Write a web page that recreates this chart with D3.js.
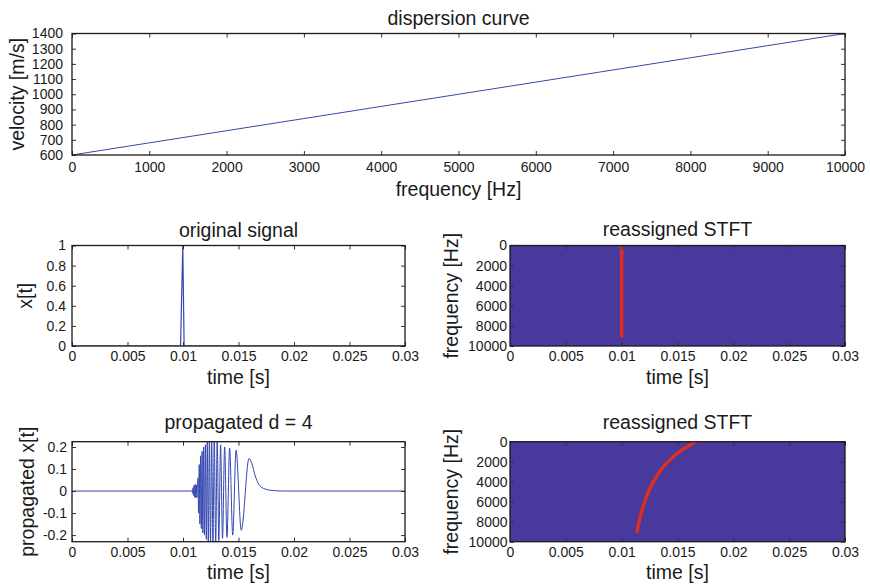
<!DOCTYPE html>
<html><head><meta charset="utf-8">
<script src="https://cdn.jsdelivr.net/npm/d3@7/dist/d3.min.js"></script>
<style>
body{margin:0;background:#fff;}
svg text{font-family:"Liberation Sans",Arial,Helvetica,sans-serif;fill:#1a1a1a;}
</style></head><body>
<svg id="c" width="870" height="586"></svg>
<script>
// ---------- data ----------
const dispFreq = [0, 1000, 2000, 3000, 4000, 5000, 6000, 7000, 8000, 9000, 10000];
const dispVel  = [600, 680, 760, 840, 920, 1000, 1080, 1160, 1240, 1320, 1400];

const origT = [0, 0.00978, 0.00998, 0.0101, 0.03];
const origX = [0, 0, 1, 0, 0];

const propT = [0, 0.0107, 0.0108, 0.01085, 0.0109, 0.01095, 0.0110, 0.01105, 0.0111, 0.01115, 0.0112, 0.01125, 0.0113,
  0.01135, 0.011406, 0.011463, 0.011523, 0.011585, 0.01165, 0.011717, 0.011788, 0.011861, 0.011937, 0.012017,
  0.0121, 0.012187, 0.012279, 0.012375, 0.012477, 0.012583, 0.012697, 0.012817, 0.012945, 0.013081, 0.013228,
  0.013387, 0.01356, 0.01375, 0.013962, 0.014201, 0.01448, 0.01478, 0.01525, 0.01595,
  0.0162, 0.0165, 0.0168, 0.0171, 0.0174, 0.0178, 0.0185, 0.019, 0.03];
const propX = [0, 0, 0.004, -0.01, 0.015, -0.02, 0.025, -0.028, 0.03, -0.03, 0.028, -0.03, 0.025,
  0.06, -0.1, 0.12, -0.15, 0.16, -0.17, 0.18, -0.19, 0.2, -0.2, 0.21,
  -0.22, 0.225, -0.235, 0.235, -0.24, 0.24, -0.24, 0.24, -0.24, 0.23, -0.225,
  0.21, -0.215, 0.2, -0.21, 0.195, -0.2, 0.185, -0.178, 0.148,
  0.125, 0.07, 0.032, 0.016, 0.009, 0.004, 0.001, 0, 0];

const stft1T = [0.01, 0.01];
const stft1F = [0, 9000];
const stft2T = [0.01662, 0.01586, 0.01519, 0.01463, 0.01416, 0.01375, 0.0134, 0.01284, 0.0124, 0.01206, 0.01178, 0.01156, 0.01138];
const stft2F = [0, 500, 1000, 1500, 2000, 2500, 3000, 4000, 5000, 6000, 7000, 8000, 9000];

const freqTicks = [0, 1000, 2000, 3000, 4000, 5000, 6000, 7000, 8000, 9000, 10000];
const velTicks = [600, 700, 800, 900, 1000, 1100, 1200, 1300, 1400];
const timeTicks = [0, 0.005, 0.01, 0.015, 0.02, 0.025, 0.03];
const sigTicks = [0, 0.2, 0.4, 0.6, 0.8, 1];
const propTicks = [-0.2, -0.1, 0, 0.1, 0.2];
const stftTicks = [0, 2000, 4000, 6000, 8000, 10000];

// ---------- drawing ----------
const svg = d3.select("#c");
const fmt = v => String(+(+v).toFixed(4));
const blue = "#3447b0";
let clipId = 0;

function panel(o) {
  const x = d3.scaleLinear().domain(o.xd).range([o.x0, o.x1]);
  const y = d3.scaleLinear().domain(o.yd).range([o.y1, o.y0]);
  const g = svg.append("g");
  const id = "clip" + (clipId++);
  svg.append("clipPath").attr("id", id).append("rect")
    .attr("x", o.x0).attr("y", o.y0).attr("width", o.x1 - o.x0).attr("height", o.y1 - o.y0);
  const plot = g.append("g").attr("clip-path", `url(#${id})`);
  if (o.bg) plot.append("rect").attr("x", o.x0).attr("y", o.y0)
      .attr("width", o.x1 - o.x0).attr("height", o.y1 - o.y0).attr("fill", o.bg);
  o.draw(plot, x, y);

  const tk = 4;
  const ax = (a, tr) => {
    const s = g.append("g").attr("transform", tr).call(a);
    s.select(".domain").remove();
    s.selectAll(".tick line").attr("stroke", "#333").attr("stroke-width", 1);
    s.selectAll("text").attr("font-size", 14).attr("fill", "#1a1a1a")
      .attr("font-family", '"Liberation Sans",Arial,sans-serif');
    return s;
  };
  ax(d3.axisBottom(x).tickValues(o.xt).tickSizeInner(-tk).tickSizeOuter(0).tickPadding(o.xpad).tickFormat(fmt), `translate(0,${o.y1})`);
  ax(d3.axisTop(x).tickValues(o.xt).tickSizeInner(-tk).tickSizeOuter(0).tickFormat(""), `translate(0,${o.y0})`);
  ax(d3.axisLeft(y).tickValues(o.yt).tickSizeInner(-tk).tickSizeOuter(0).tickPadding(o.ypad).tickFormat(fmt), `translate(${o.x0},0)`);
  ax(d3.axisRight(y).tickValues(o.yt).tickSizeInner(-tk).tickSizeOuter(0).tickFormat(""), `translate(${o.x1},0)`);

  g.append("rect").attr("x", o.x0).attr("y", o.y0).attr("width", o.x1 - o.x0).attr("height", o.y1 - o.y0)
    .attr("fill", "none").attr("stroke", "#1a1a1a").attr("stroke-width", 1.3);

  const cx = (o.x0 + o.x1) / 2;
  g.append("text").attr("x", cx).attr("y", o.ty).attr("text-anchor", "middle")
    .attr("font-size", 19.5).text(o.title);
  g.append("text").attr("x", cx).attr("y", o.y1 + o.xly).attr("text-anchor", "middle")
    .attr("font-size", 19.5).text(o.xl);
  g.append("text").attr("transform", `translate(${o.ylx},${(o.y0 + o.y1) / 2}) rotate(-90)`)
    .attr("text-anchor", "middle").attr("font-size", 19.5).text(o.yl);
}

function lineOf(xs, ys, x, y, curve) {
  const pts = xs.map((t, i) => [t, ys[i]]);
  return d3.line().x(d => x(d[0])).y(d => y(d[1])).curve(curve || d3.curveLinear)(pts);
}

panel({
  x0: 72, x1: 845, y0: 33.5, y1: 155, xd: [0, 10000], yd: [600, 1400],
  xt: freqTicks, yt: velTicks, title: "dispersion curve", xl: "frequency [Hz]", yl: "velocity [m/s]",
  ylx: 24, ty: 25, xly: 41, xpad: 7, ypad: 9,
  draw: (p, x, y) => p.append("path").attr("d", lineOf(dispFreq, dispVel, x, y))
    .attr("fill", "none").attr("stroke", blue).attr("stroke-width", 1)
});

panel({
  x0: 72, x1: 405, y0: 245.5, y1: 346, xd: [0, 0.03], yd: [0, 1],
  xt: timeTicks, yt: sigTicks, title: "original signal", xl: "time [s]", yl: "x[t]",
  ylx: 32, ty: 237, xly: 38, xpad: 5, ypad: 6,
  draw: (p, x, y) => p.append("path").attr("d", lineOf(origT, origX, x, y))
    .attr("fill", "none").attr("stroke", blue).attr("stroke-width", 1.2)
});

panel({
  x0: 510, x1: 845, y0: 245.5, y1: 346, xd: [0, 0.03], yd: [10000, 0],
  xt: timeTicks, yt: stftTicks, title: "reassigned STFT", xl: "time [s]", yl: "frequency [Hz]",
  ylx: 458, ty: 236, xly: 38, xpad: 5, ypad: 3, bg: "#48399d",
  draw: (p, x, y) => p.append("path").attr("d", lineOf(stft1T, stft1F, x, y))
    .attr("fill", "none").attr("stroke", "#d9301f").attr("stroke-width", 3.5).attr("stroke-linecap", "round")
});

panel({
  x0: 72, x1: 405, y0: 441.7, y1: 541.7, xd: [0, 0.03], yd: [-0.23, 0.224],
  xt: timeTicks, yt: propTicks, title: "propagated d = 4", xl: "time [s]", yl: "propagated x[t]",
  ylx: 34, ty: 429, xly: 37, xpad: 5, ypad: 5,
  draw: (p, x, y) => p.append("path").attr("d", lineOf(propT, propX, x, y, d3.curveMonotoneX))
    .attr("fill", "none").attr("stroke", blue).attr("stroke-width", 1)
});

panel({
  x0: 510, x1: 845, y0: 441.7, y1: 541.7, xd: [0, 0.03], yd: [10000, 0],
  xt: timeTicks, yt: stftTicks, title: "reassigned STFT", xl: "time [s]", yl: "frequency [Hz]",
  ylx: 458, ty: 429, xly: 37, xpad: 5, ypad: 2.5, bg: "#48399d",
  draw: (p, x, y) => p.append("path").attr("d", lineOf(stft2T, stft2F, x, y, d3.curveMonotoneY))
    .attr("fill", "none").attr("stroke", "#d9301f").attr("stroke-width", 3.5).attr("stroke-linecap", "round")
});
</script>
</body></html>
